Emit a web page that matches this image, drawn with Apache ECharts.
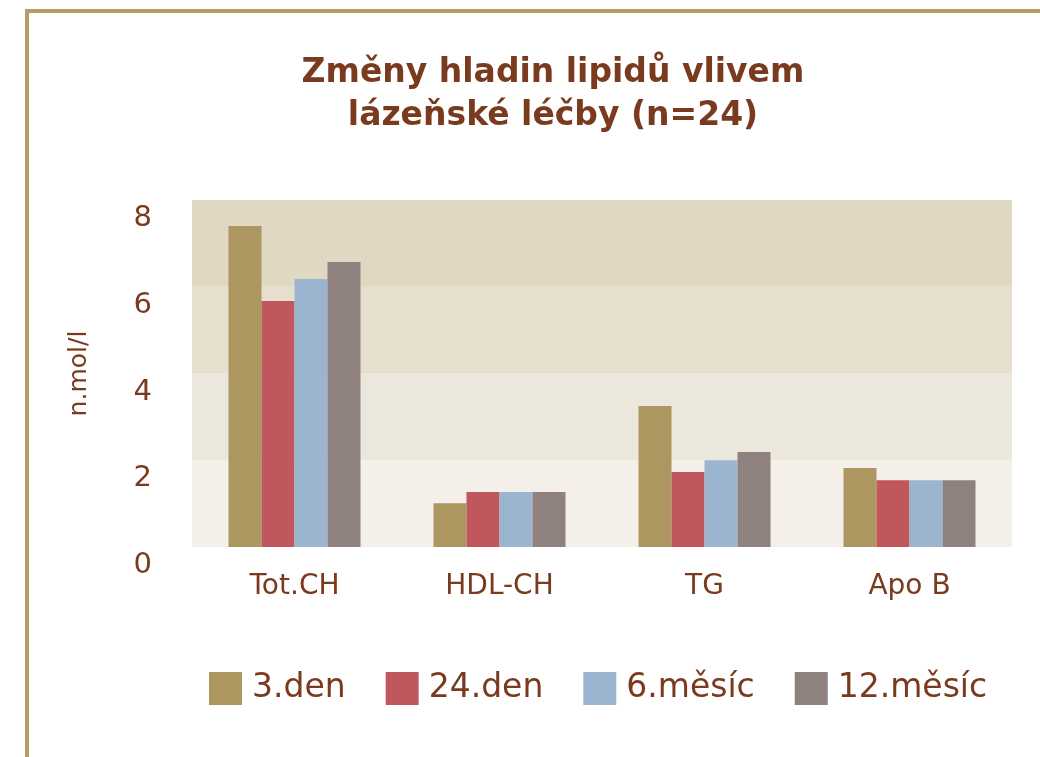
<!DOCTYPE html>
<html>
<head>
<meta charset="utf-8">
<script src="https://cdn.jsdelivr.net/npm/echarts@6/dist/echarts.min.js"></script>
<style>html,body{margin:0;padding:0;background:#fff;}#c{width:1040px;height:757px;}</style>
</head>
<body>
<div id="c"></div>
<script>
const categories = ['Tot.CH', 'HDL-CH', 'TG', 'Apo B'];
const seriesNames = ['3.den', '24.den', '6.měsíc', '12.měsíc'];
const den3 = [7.40, 1.01, 3.25, 1.82];
const den24 = [5.67, 1.27, 1.73, 1.54];
const mesic6 = [6.18, 1.27, 2.00, 1.54];
const mesic12 = [6.57, 1.27, 2.19, 1.54];
const yTicks = [0, 2, 4, 6, 8];

const colors = ['#AD9761', '#C0575C', '#9BB5D0', '#8F827E'];
const textColor = '#7A3A1E';
const font = 'DejaVu Sans';
const values = [den3, den24, mesic6, mesic12];

const chart = echarts.init(document.getElementById('c'));
chart.setOption({
  animation: false,
  backgroundColor: '#ffffff',
  title: {
    text: 'Změny hladin lipidů vlivem\nlázeňské léčby (n=24)',
    left: 548, top: 47, textAlign: 'center',
    textStyle: { color: textColor, fontFamily: font, fontWeight: 'bold', fontSize: 33, lineHeight: 43 }
  },
  graphic: [
    { type: 'rect', shape: { x: 25, y: 9, width: 1015, height: 4 }, style: { fill: '#B39E6A' }, silent: true },
    { type: 'rect', shape: { x: 25, y: 9, width: 4, height: 748 }, style: { fill: '#B39E6A' }, silent: true }
  ],
  legend: {
    data: seriesNames,
    left: 204, top: 667,
    itemWidth: 33, itemHeight: 33, itemGap: 40,
    icon: 'rect',
    textStyle: { color: textColor, fontFamily: font, fontSize: 33, padding: [0, 0, 0, 5] }
  },
  grid: { left: 192, right: 28, top: 200, bottom: 210 },
  xAxis: {
    type: 'category', data: categories,
    axisLine: { show: false }, axisTick: { show: false },
    axisLabel: { color: textColor, fontFamily: font, fontSize: 28, margin: 26 }
  },
  yAxis: {
    type: 'value', min: 0, max: 8, interval: 2,
    name: 'n.mol/l', nameLocation: 'middle', nameGap: 100, nameRotate: 90,
    nameTextStyle: { color: textColor, fontFamily: font, fontSize: 25 },
    axisLine: { show: false }, axisTick: { show: false },
    splitLine: { show: false },
    splitArea: { show: true, areaStyle: { color: ['#F4EFE8', '#ECE7DC', '#E6DFCE', '#E1D8C4'] } },
    axisLabel: {
      color: textColor, fontFamily: font, fontSize: 29, margin: 40, verticalAlign: 'top',
      padding: [4, 0, 0, 0],
      formatter: v => yTicks.includes(v) ? String(v) : ''
    }
  },
  series: seriesNames.map((n, i) => ({
    name: n, type: 'bar', data: values[i],
    barWidth: 33, barGap: '0%',
    itemStyle: { color: colors[i] }
  }))
});
</script>
</body>
</html>
